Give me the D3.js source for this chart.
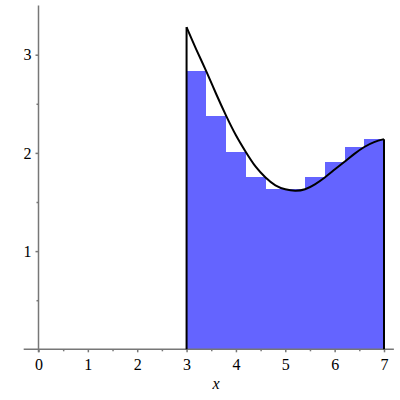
<!DOCTYPE html>
<html>
<head>
<meta charset="utf-8">
<script src="https://cdn.jsdelivr.net/npm/d3@7"></script>
<style>
  body { margin: 0; background: #fff; }
  svg { display: block; }
</style>
</head>
<body>
<svg id="chart" width="400" height="400"></svg>
<script>
// curve samples
const curveX = [3.0, 3.2, 3.4, 3.6, 3.8, 4.0, 4.2, 4.4, 4.6, 4.8, 5.0, 5.2, 5.4, 5.6, 5.8, 6.0, 6.2, 6.4, 6.6, 6.8, 7.0]
const curveY = [3.28, 3.05, 2.83, 2.60, 2.38, 2.18, 2.01, 1.86, 1.75, 1.67, 1.63, 1.615, 1.63, 1.68, 1.75, 1.83, 1.91, 1.99, 2.06, 2.11, 2.14]

// right-endpoint boxes
const boxLeft = [3.0, 3.4, 3.8, 4.2, 4.6, 5.0, 5.4, 5.8, 6.2, 6.6]
const boxWidth = 0.4
const boxHeight = [2.83, 2.38, 2.01, 1.75, 1.63, 1.63, 1.75, 1.91, 2.06, 2.14]

const xTicks = [0, 1, 2, 3, 4, 5, 6, 7]
const xMinor = [0.5, 1.5, 2.5, 3.5, 4.5, 5.5, 6.5]
const yTicks = [1, 2, 3]
const yMinor = [0.5, 1.5, 2.5]

const serif = 'Liberation Serif'

const svg = d3.select('#chart')
const x = d3.scaleLinear().domain([0, 7]).range([38.5, 384])
const y = d3.scaleLinear().domain([0, 3]).range([349.3, 54.7])

// boxes
svg.append('g')
  .selectAll('rect')
  .data(boxLeft)
  .join('rect')
    .attr('x', d => x(d))
    .attr('width', x(boxWidth) - x(0))
    .attr('y', (d, i) => y(boxHeight[i]))
    .attr('height', (d, i) => y(0) - y(boxHeight[i]))
    .attr('fill', '#6464ff')
    .attr('shape-rendering', 'crispEdges')

// axes
const axisColor = '#777'
const xAxis = svg.append('g').attr('transform', `translate(0,${y(0)})`)
xAxis.append('line')
  .attr('x1', x(-0.3)).attr('x2', x(7.2))
  .attr('stroke', axisColor).attr('stroke-width', 1.5)
xAxis.call(d3.axisBottom(x).tickValues(xTicks).tickSize(3).tickPadding(6).tickFormat(d3.format('d')))
xAxis.call(g => g.append('g').call(d3.axisBottom(x).tickValues(xMinor).tickSize(2).tickFormat('')))

const yAxis = svg.append('g').attr('transform', `translate(${x(0)},0)`)
yAxis.append('line')
  .attr('y1', y(0) + 3).attr('y2', y(3.5))
  .attr('stroke', axisColor).attr('stroke-width', 1.5)
yAxis.call(d3.axisLeft(y).tickValues(yTicks).tickSize(3).tickPadding(4).tickFormat(d3.format('d')))
yAxis.call(g => g.append('g').call(d3.axisLeft(y).tickValues(yMinor).tickSize(2).tickFormat('')))

svg.selectAll('.domain').remove()
svg.selectAll('.tick line').attr('stroke', axisColor).attr('stroke-width', 1.5)
svg.selectAll('.tick text')
  .attr('font-family', serif)
  .attr('font-size', 16)
  .attr('fill', '#000')

// curve
const pts = curveX.map((d, i) => [d, curveY[i]])
const line = d3.line()
  .x(d => x(d[0]))
  .y(d => y(d[1]))
  .curve(d3.curveNatural)

svg.append('path')
  .datum(pts)
  .attr('d', line)
  .attr('fill', 'none')
  .attr('stroke', '#000')
  .attr('stroke-width', 2)

// vertical boundaries at a and b
svg.append('g')
  .selectAll('line')
  .data([0, curveX.length - 1])
  .join('line')
    .attr('x1', i => x(curveX[i])).attr('x2', i => x(curveX[i]))
    .attr('y1', y(0)).attr('y2', i => y(curveY[i]))
    .attr('stroke', '#000')
    .attr('stroke-width', 2)

// axis label
svg.append('text')
  .attr('x', 216).attr('y', 389)
  .attr('text-anchor', 'middle')
  .attr('font-family', serif)
  .attr('font-style', 'italic')
  .attr('font-size', 16)
  .text('x')
</script>
</body>
</html>
